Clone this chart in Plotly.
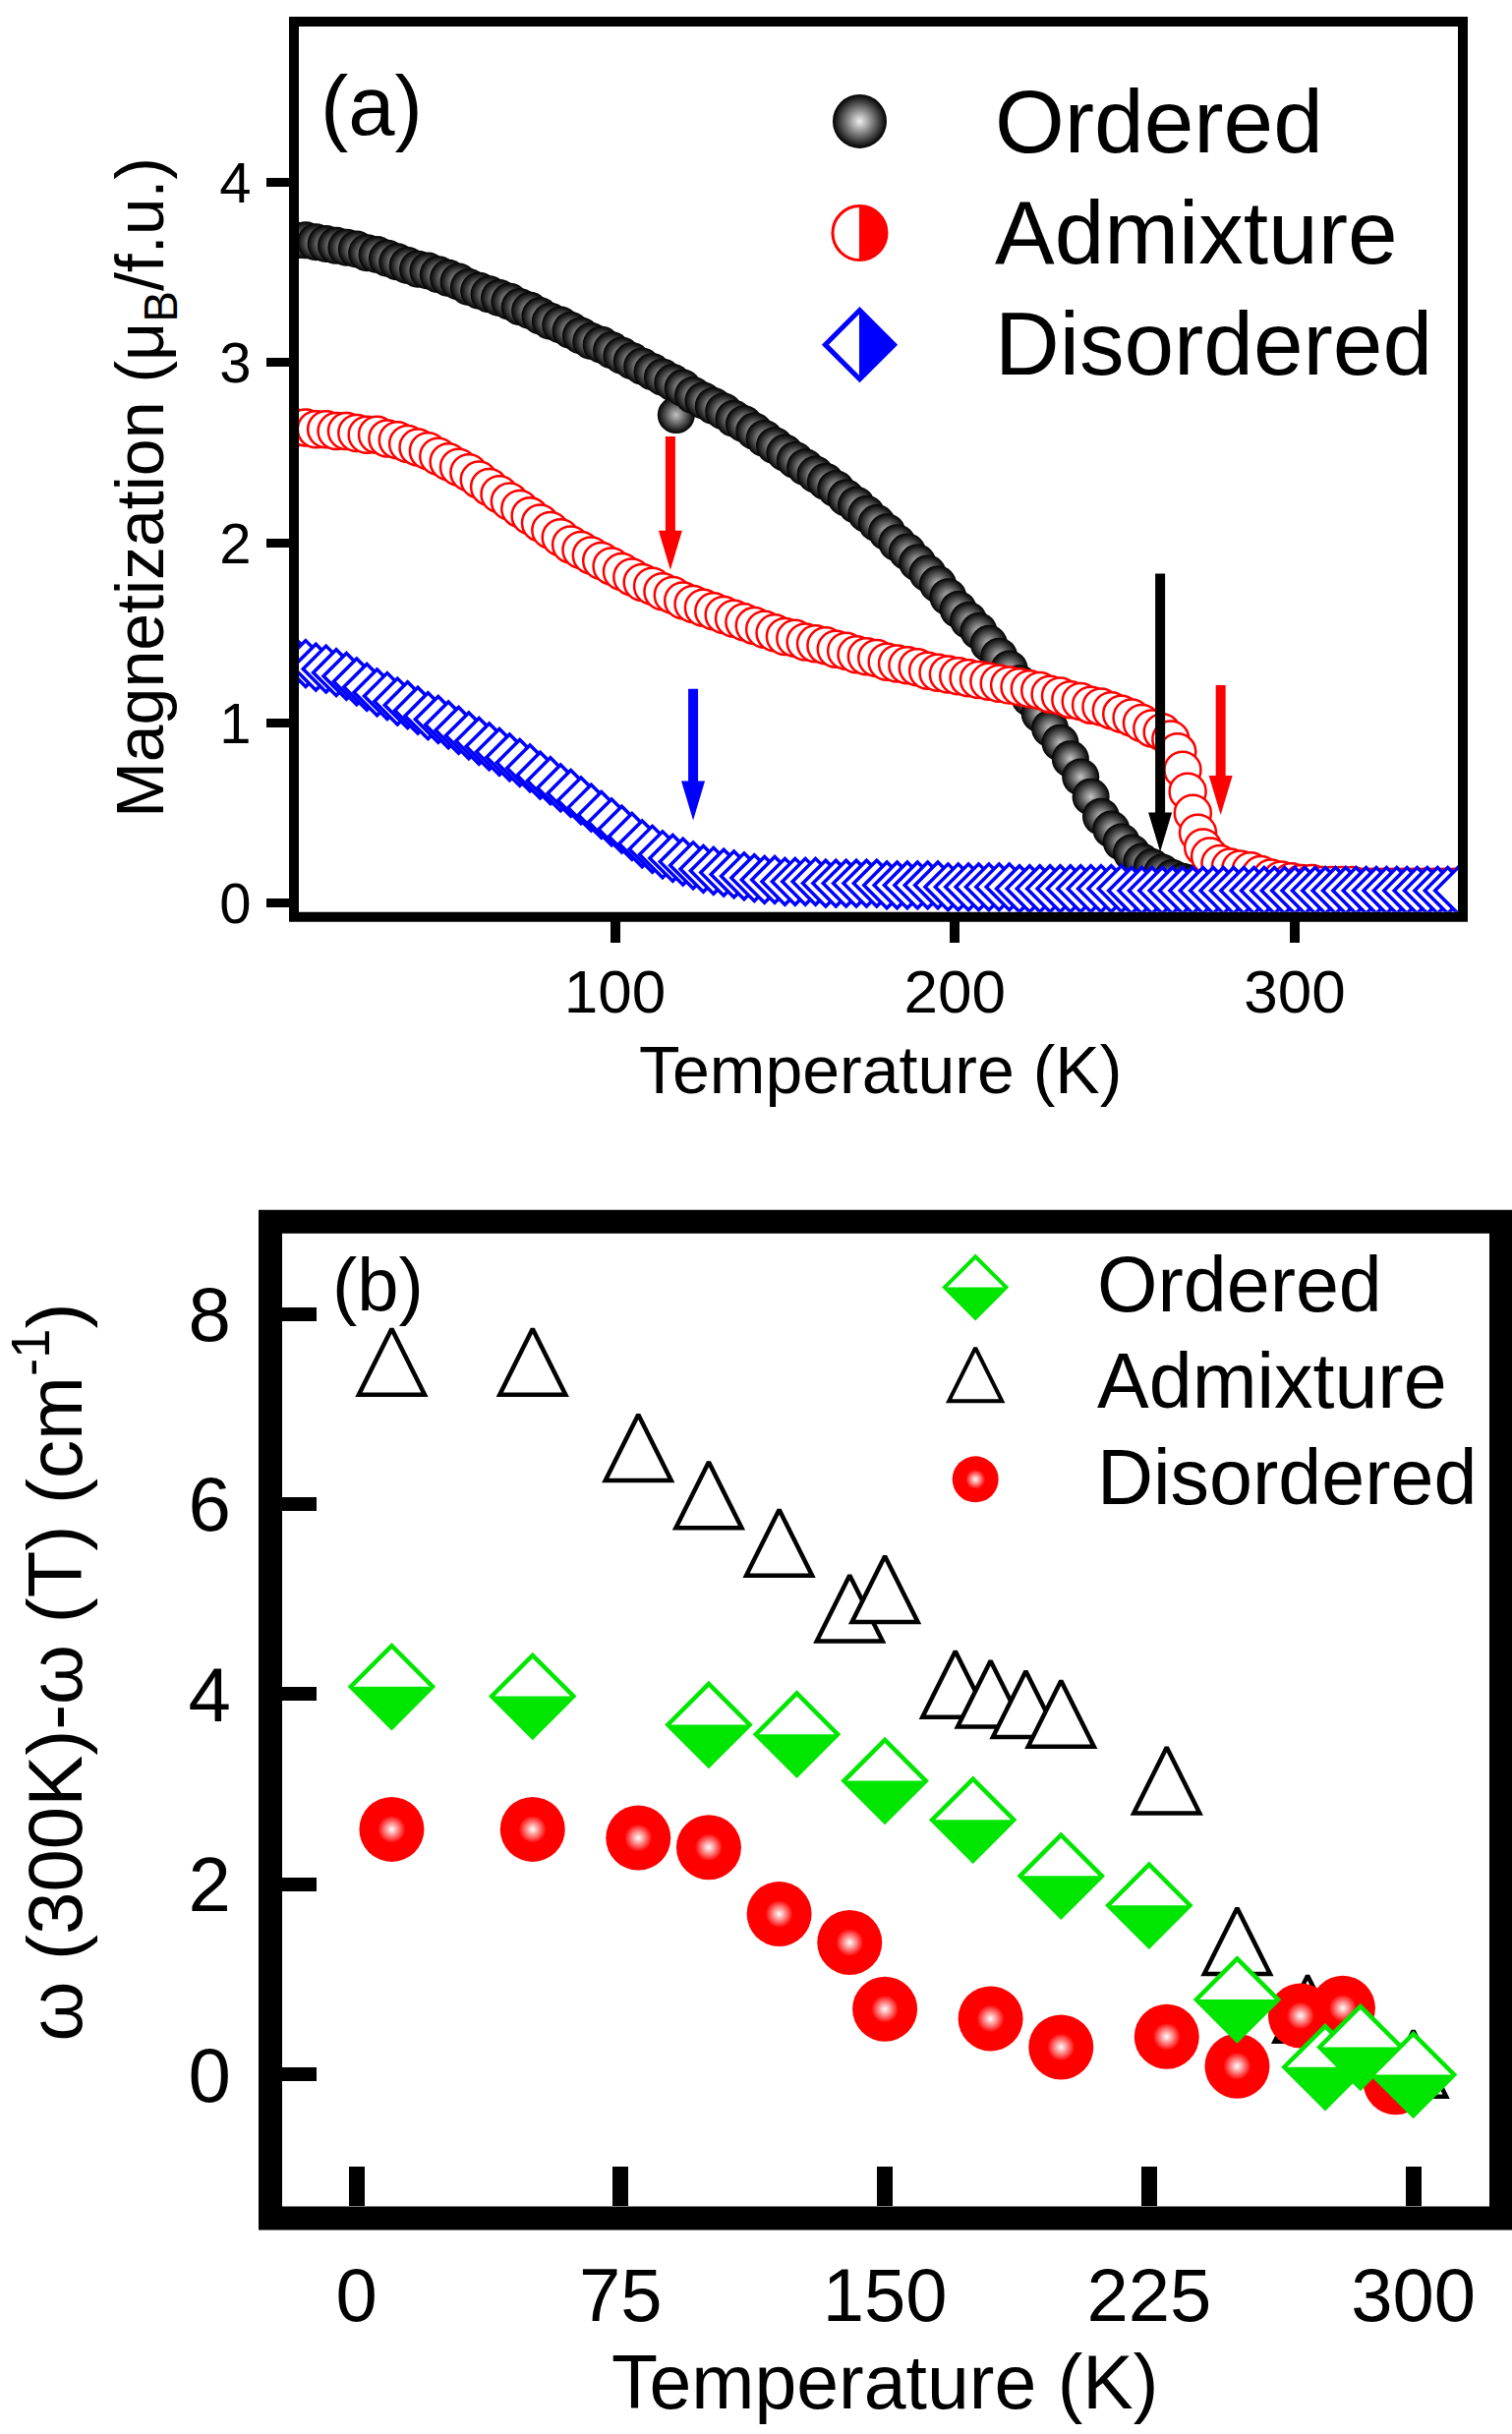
import plotly.graph_objects as go

W, H = 1538, 2476
FONT = "Liberation Sans, Arial, Helvetica, sans-serif"

# ---------------- Panel (a): magnetization vs temperature ----------------
T_ordered = [6, 9, 12, 15, 18, 21, 24, 27, 30, 33,
             36, 39, 42, 45, 48, 51, 54, 57, 60, 63,
             66, 69, 72, 75, 78, 81, 84, 87, 90, 93,
             96, 99, 102, 105, 108, 111, 114, 117, 118,
             120, 123, 126, 129, 132, 135, 138, 141, 144, 147,
             150, 153, 156, 159, 162, 165, 168, 171, 174, 177,
             180, 183, 186, 189, 192, 195, 198, 201, 204, 207,
             210, 213, 216, 219, 222, 225, 228, 231, 234, 237,
             240, 243, 246, 249, 252, 255, 258, 261, 264, 267,
             270, 273, 276, 279, 282, 285, 288, 291, 294, 297,
             300, 303, 306, 309, 312, 315, 318, 321, 324, 327,
             330, 333, 336, 339, 342, 345, 348]
M_ordered = [3.68, 3.68, 3.67, 3.66, 3.65, 3.64, 3.63, 3.61, 3.60, 3.58,
             3.56, 3.54, 3.52, 3.51, 3.49, 3.47, 3.45, 3.42, 3.40, 3.38,
             3.36, 3.34, 3.31, 3.29, 3.26, 3.23, 3.21, 3.18, 3.15, 3.12,
             3.10, 3.07, 3.04, 3.01, 2.98, 2.95, 2.92, 2.89, 2.71,
             2.86, 2.82, 2.79, 2.76, 2.73, 2.69, 2.66, 2.62, 2.58, 2.54,
             2.50, 2.46, 2.42, 2.38, 2.34, 2.30, 2.25, 2.21, 2.16, 2.11,
             2.06, 2.00, 1.95, 1.89, 1.83, 1.77, 1.70, 1.63, 1.57, 1.51,
             1.44, 1.37, 1.30, 1.22, 1.14, 1.05, 0.97, 0.89, 0.80, 0.70,
             0.59, 0.48, 0.41, 0.34, 0.28, 0.23, 0.20, 0.17, 0.14, 0.12,
             0.11, 0.10, 0.10, 0.10, 0.10, 0.09, 0.09, 0.09, 0.09, 0.09,
             0.09, 0.09, 0.09, 0.08, 0.08, 0.08, 0.08, 0.08, 0.08, 0.08,
             0.08, 0.08, 0.08, 0.08, 0.08, 0.08, 0.08]

T_admixture = [6, 9, 12, 15, 18, 21, 24, 27, 30, 33,
               36, 39, 42, 45, 48, 51, 54, 57, 60, 63,
               66, 69, 72, 75, 78, 81, 84, 87, 90, 93,
               96, 99, 102, 105, 108, 111, 114, 117, 120, 123,
               126, 129, 132, 135, 138, 141, 144, 147, 150, 153,
               156, 159, 162, 165, 168, 171, 174, 177, 180, 183,
               186, 189, 192, 195, 198, 201, 204, 207, 210, 213,
               216, 219, 222, 225, 228, 231, 234, 237, 240, 243,
               246, 249, 252, 255, 258,
               261, 263.5, 265.5, 267, 268.5, 270, 271.5, 273, 275, 278,
               281, 284, 287, 290, 293, 296, 299, 302, 305, 308,
               311, 314, 317, 320, 323, 326, 329, 332, 335, 338,
               341, 344, 347]
M_admixture = [2.64, 2.64, 2.63, 2.63, 2.62, 2.62, 2.61, 2.60, 2.60, 2.58,
               2.57, 2.55, 2.53, 2.51, 2.48, 2.45, 2.42, 2.39, 2.35, 2.31,
               2.27, 2.23, 2.19, 2.15, 2.11, 2.07, 2.03, 1.99, 1.96, 1.93,
               1.90, 1.87, 1.84, 1.81, 1.78, 1.76, 1.73, 1.71, 1.68, 1.66,
               1.64, 1.62, 1.60, 1.58, 1.56, 1.54, 1.52, 1.50, 1.48, 1.47,
               1.45, 1.44, 1.43, 1.41, 1.40, 1.38, 1.37, 1.36, 1.34, 1.33,
               1.32, 1.31, 1.29, 1.28, 1.27, 1.26, 1.25, 1.24, 1.23, 1.22,
               1.21, 1.20, 1.19, 1.18, 1.16, 1.15, 1.13, 1.12, 1.10, 1.09,
               1.07, 1.05, 1.03, 1.00, 0.97,
               0.95, 0.91, 0.84, 0.74, 0.62, 0.50, 0.39, 0.31, 0.26, 0.22,
               0.20, 0.19, 0.18, 0.16, 0.14, 0.13, 0.12, 0.11, 0.11, 0.10,
               0.10, 0.10, 0.10, 0.09, 0.09, 0.09, 0.09, 0.09, 0.09, 0.09,
               0.09, 0.09, 0.09]

T_disordered = [6, 9, 12, 15, 18, 21, 24, 27, 30, 33,
                36, 39, 42, 45, 48, 51, 54, 57, 60, 63,
                66, 69, 72, 75, 78, 81, 84, 87, 90, 93,
                96, 99, 102, 105, 108, 111, 114, 117, 120, 123,
                126, 129, 132, 135, 138, 141, 144, 147, 150, 153,
                156, 159, 162, 165, 168, 171, 174, 177, 180, 183,
                186, 189, 192, 195, 198, 201, 204, 207, 210, 213,
                216, 219, 222, 225, 228, 231, 234, 237, 240, 243,
                246, 249, 252, 255, 258, 261, 264, 267, 270, 273,
                276, 279, 282, 285, 288, 291, 294, 297, 300, 303,
                306, 309, 312, 315, 318, 321, 324, 327, 330, 333,
                336, 339, 342, 345, 348]
M_disordered = [1.34, 1.33, 1.31, 1.30, 1.28, 1.26, 1.23, 1.20, 1.17, 1.15,
                1.12, 1.10, 1.07, 1.04, 1.02, 0.99, 0.96, 0.93, 0.90, 0.87,
                0.84, 0.81, 0.78, 0.75, 0.71, 0.68, 0.64, 0.61, 0.57, 0.53,
                0.49, 0.45, 0.41, 0.37, 0.33, 0.30, 0.27, 0.25, 0.23, 0.21,
                0.19, 0.18, 0.17, 0.16, 0.15, 0.14, 0.13, 0.13, 0.12, 0.12,
                0.12, 0.12, 0.11, 0.11, 0.11, 0.11, 0.11, 0.11, 0.10, 0.10,
                0.10, 0.10, 0.10, 0.10, 0.09, 0.09, 0.09, 0.09, 0.09, 0.09,
                0.09, 0.08, 0.08, 0.08, 0.08, 0.08, 0.08, 0.08, 0.08, 0.08,
                0.08, 0.08, 0.07, 0.07, 0.07, 0.07, 0.07, 0.07, 0.07, 0.07,
                0.07, 0.07, 0.07, 0.07, 0.07, 0.07, 0.07, 0.07, 0.07, 0.07,
                0.07, 0.07, 0.07, 0.07, 0.07, 0.07, 0.07, 0.07, 0.07, 0.07,
                0.07, 0.07, 0.07, 0.07, 0.07]

# transition arrows in (a): temperature, tail value, tip value, colour
ARROW_T = [116.3, 123.0, 260.4, 278.2]
ARROW_TOP = [2.59, 1.19, 1.83, 1.21]
ARROW_TIP = [1.85, 0.46, 0.285, 0.49]
ARROW_COLOR = ["#ff0000", "#0000ff", "#000000", "#ff0000"]

# ---------------- Panel (b): phonon shift vs temperature ----------------
Tb_ordered = [10, 50, 100, 125, 150, 175, 200, 225, 250, 275, 285, 300]
Wb_ordered = [4.08, 3.98, 3.68, 3.58, 3.09, 2.68, 2.09, 1.78, 0.79, 0.08, 0.29, 0.0]
Tb_admixture = [10, 50, 80, 100, 120, 140, 150, 170, 180, 190, 200, 230, 250, 270, 300]
Wb_admixture = [7.38, 7.38, 6.48, 5.98, 5.48, 4.79, 4.99, 3.99, 3.89, 3.78, 3.68, 2.98, 1.29, 0.58, 0.0]
Tb_disordered = [10, 50, 80, 100, 120, 140, 150, 180, 200, 230, 250, 268, 280, 295]
Wb_disordered = [2.58, 2.58, 2.49, 2.39, 1.69, 1.39, 0.69, 0.59, 0.29, 0.40, 0.09, 0.62, 0.70, -0.08]

SERIES_NAMES = ["Ordered", "Admixture", "Disordered"]

# ---------------- layout geometry (pixels of the 1538x2476 canvas) ----------------
A_L, A_R, A_T, A_B = 304, 1483, 27, 928
B_L, B_R, B_T, B_B = 287, 1515, 1255, 2245
A_LW, B_LW = 10, 24
KY = 1.0091  # vertical correction for the page capture

RED, BLUE, GREEN = "#ff0000", "#0000ff", "#00e600"


def px(x):
    return x / W


def py(y):
    return 1 - y * KY / H


fig = go.Figure()

# ---- panel (a) data traces ----
fig.add_trace(go.Scatter(
    x=T_ordered, y=M_ordered, mode="markers", xaxis="x", yaxis="y", name=SERIES_NAMES[0],
    marker=dict(symbol="circle", size=38, color="black",
                gradient=dict(type="radial", color="#c4c4c4"), line=dict(width=0))))
fig.add_trace(go.Scatter(
    x=T_admixture, y=M_admixture, mode="markers", xaxis="x", yaxis="y", name=SERIES_NAMES[1],
    marker=dict(symbol="circle", size=37, color="white", line=dict(color=RED, width=2.5))))
fig.add_trace(go.Scatter(
    x=T_disordered, y=M_disordered, mode="markers", xaxis="x", yaxis="y", name=SERIES_NAMES[2],
    marker=dict(symbol="diamond", size=36, color="white", line=dict(color=BLUE, width=3.5))))

# ---- panel (a) legend keys (positions in axis units) ----
LEG_A_X = 172
LEG_A_Y = [4.34, 3.72, 3.10]
fig.add_trace(go.Scatter(
    x=[LEG_A_X], y=[LEG_A_Y[0]], mode="markers", xaxis="x", yaxis="y", hoverinfo="skip",
    marker=dict(symbol="circle", size=55, color="black",
                gradient=dict(type="radial", color="#f0f0f0"), line=dict(width=0))))
fig.add_trace(go.Scatter(
    x=[LEG_A_X], y=[LEG_A_Y[1]], mode="markers", xaxis="x", yaxis="y", hoverinfo="skip",
    marker=dict(symbol="circle", size=55, color="white", line=dict(color=RED, width=3))))
fig.add_trace(go.Scatter(
    x=[LEG_A_X], y=[LEG_A_Y[2]], mode="markers", xaxis="x", yaxis="y", hoverinfo="skip",
    marker=dict(symbol="diamond", size=54, color="white", line=dict(color=BLUE, width=5))))

# ---- panel (b) data traces ----
TRI = 67
fig.add_trace(go.Scatter(
    x=Tb_admixture, y=Wb_admixture, mode="markers", xaxis="x2", yaxis="y2", name=SERIES_NAMES[1],
    marker=dict(symbol="arrow-down", angle=180, standoff=2 * TRI / 3, size=TRI, color="white",
                line=dict(color="black", width=4.5))))
fig.add_trace(go.Scatter(
    x=Tb_disordered, y=Wb_disordered, mode="markers", xaxis="x2", yaxis="y2", name=SERIES_NAMES[2],
    marker=dict(symbol="circle", size=66, color=RED, line=dict(width=0))))
fig.add_trace(go.Scatter(
    x=Tb_disordered, y=Wb_disordered, mode="markers", xaxis="x2", yaxis="y2", hoverinfo="skip",
    marker=dict(symbol="circle", size=28, color=RED,
                gradient=dict(type="radial", color="white"), line=dict(width=0))))
fig.add_trace(go.Scatter(
    x=Tb_ordered, y=Wb_ordered, mode="markers", xaxis="x2", yaxis="y2", name=SERIES_NAMES[0],
    marker=dict(symbol="diamond", size=64, color="white", line=dict(color=GREEN, width=4.5))))

# ---- panel (b) legend keys ----
LEG_B_X = 175.7
LEG_B_Y = [8.28, 7.27, 6.26]
TRI_L = 54
fig.add_trace(go.Scatter(
    x=[LEG_B_X], y=[LEG_B_Y[0]], mode="markers", xaxis="x2", yaxis="y2", hoverinfo="skip",
    marker=dict(symbol="diamond", size=48, color="white", line=dict(color=GREEN, width=4))))
fig.add_trace(go.Scatter(
    x=[LEG_B_X], y=[LEG_B_Y[1]], mode="markers", xaxis="x2", yaxis="y2", hoverinfo="skip",
    marker=dict(symbol="arrow-down", angle=180, standoff=2 * TRI_L / 3, size=TRI_L, color="white",
                line=dict(color="black", width=4))))
fig.add_trace(go.Scatter(
    x=[LEG_B_X], y=[LEG_B_Y[2]], mode="markers", xaxis="x2", yaxis="y2", hoverinfo="skip",
    marker=dict(symbol="circle", size=47, color=RED, line=dict(width=0))))
fig.add_trace(go.Scatter(
    x=[LEG_B_X], y=[LEG_B_Y[2]], mode="markers", xaxis="x2", yaxis="y2", hoverinfo="skip",
    marker=dict(symbol="circle", size=20, color=RED,
                gradient=dict(type="radial", color="white"), line=dict(width=0))))

shapes = []
# half-filled symbol parts (pixel-sized, anchored on the points)
for t, w in zip(Tb_ordered, Wb_ordered):
    h = 41.5
    shapes.append(dict(type="path", xref="x2", yref="y2", xsizemode="pixel", ysizemode="pixel",
                       xanchor=t, yanchor=w, path=f"M-{h},0 L{h},0 L0,-{h} Z",
                       fillcolor=GREEN, line=dict(width=0), layer="above"))
h = 31
shapes.append(dict(type="path", xref="x2", yref="y2", xsizemode="pixel", ysizemode="pixel",
                   xanchor=LEG_B_X, yanchor=LEG_B_Y[0], path=f"M-{h},0 L{h},0 L0,-{h} Z",
                   fillcolor=GREEN, line=dict(width=0), layer="above"))
R = 27.5
k = 0.5523 * R
shapes.append(dict(type="path", xref="x", yref="y", xsizemode="pixel", ysizemode="pixel",
                   xanchor=LEG_A_X, yanchor=LEG_A_Y[1],
                   path=f"M0,{R} C{k},{R} {R},{k} {R},0 C{R},-{k} {k},-{R} 0,-{R} Z",
                   fillcolor=RED, line=dict(color=RED, width=1), layer="above"))
hd = 35
shapes.append(dict(type="path", xref="x", yref="y", xsizemode="pixel", ysizemode="pixel",
                   xanchor=LEG_A_X, yanchor=LEG_A_Y[2], path=f"M0,{hd} L{hd},0 L0,-{hd} Z",
                   fillcolor=BLUE, line=dict(color=BLUE, width=1), layer="above"))

# arrows in (a)
for t, top, tip, c in zip(ARROW_T, ARROW_TOP, ARROW_TIP, ARROW_COLOR):
    shapes.append(dict(type="line", xref="x", yref="y", x0=t, x1=t, y0=top, y1=tip + 0.15,
                       line=dict(color=c, width=10), layer="above"))
    shapes.append(dict(type="path", xref="x", yref="y", xsizemode="pixel", ysizemode="pixel",
                       xanchor=t, yanchor=tip, path="M-12,40 L12,40 L0,0 Z",
                       fillcolor=c, line=dict(width=0), layer="above"))

# frames
shapes.append(dict(type="rect", xref="paper", yref="paper",
                   x0=px(A_L - A_LW / 2), x1=px(A_R + A_LW / 2),
                   y0=py(A_B + A_LW / 2), y1=py(A_T - A_LW / 2),
                   line=dict(color="black", width=A_LW), layer="above"))
shapes.append(dict(type="rect", xref="paper", yref="paper",
                   x0=px(B_L - B_LW / 2), x1=px(B_R + B_LW / 2),
                   y0=py(B_B + B_LW / 2), y1=py(B_T - B_LW / 2),
                   line=dict(color="black", width=B_LW), layer="above"))

ann = []


def text(x, y, s, size, xanchor="center", angle=0):
    ann.append(dict(x=px(x), y=py(y), xref="paper", yref="paper", text=s, showarrow=False,
                    xanchor=xanchor, yanchor="middle", textangle=angle,
                    font=dict(family=FONT, size=size, color="black")))


# panel (a) texts
text(324, 108, "(a)", 85, "left")
for name, yy in zip(SERIES_NAMES, [124, 237, 350]):
    text(1010, yy, name, 91, "left")
text(895, 1088, "Temperature (K)", 68)
text(147, 496, "Magnetization (μ<sub>B</sub>/f.u.)", 68, angle=-90)

# panel (b) texts
text(336, 1307, "(b)", 76, "left")
for name, yy in zip(SERIES_NAMES, [1307, 1405, 1503]):
    text(1114, yy, name, 79, "left")
text(900, 2424, "Temperature (K)", 77)
text(51, 1702, "ω (300K)-ω (T) (cm<sup>-1</sup>)", 78, angle=-90)

axis_common = dict(showgrid=False, zeroline=False, showline=False, tickcolor="black")


def tf(size):
    return dict(family=FONT, size=size, color="black")


fig.update_layout(
    width=W, height=H, margin=dict(l=0, r=0, t=0, b=0),
    paper_bgcolor="white", plot_bgcolor="white", showlegend=False,
    font=dict(family=FONT, color="black"),
    xaxis=dict(domain=[px(A_L), px(A_R)], range=[7, 348], anchor="y",
               tickvals=[100, 200, 300], ticks="outside", ticklen=30, tickwidth=10,
               ticklabelstandoff=-3, tickfont=tf(62), **axis_common),
    yaxis=dict(domain=[py(A_B), py(A_T)], range=[-0.049, 4.866], anchor="x",
               tickvals=[0, 1, 2, 3, 4], ticks="outside", ticklen=32, tickwidth=9,
               ticklabelstandoff=4, tickfont=tf(58), **axis_common),
    xaxis2=dict(domain=[px(B_L), px(B_R)], range=[-21.1, 321.6], anchor="y2",
                tickvals=[0, 75, 150, 225, 300], ticks="inside", ticklen=40, tickwidth=16,
                ticklabelstandoff=40, tickfont=tf(76), **axis_common),
    yaxis2=dict(domain=[py(B_B), py(B_T)], range=[-1.384, 8.846], anchor="x2",
                tickvals=[0, 2, 4, 6, 8], ticks="inside", ticklen=35, tickwidth=14,
                ticklabelstandoff=51, tickfont=tf(78), **axis_common),
    shapes=shapes, annotations=ann,
)

fig.write_html("out.html")
